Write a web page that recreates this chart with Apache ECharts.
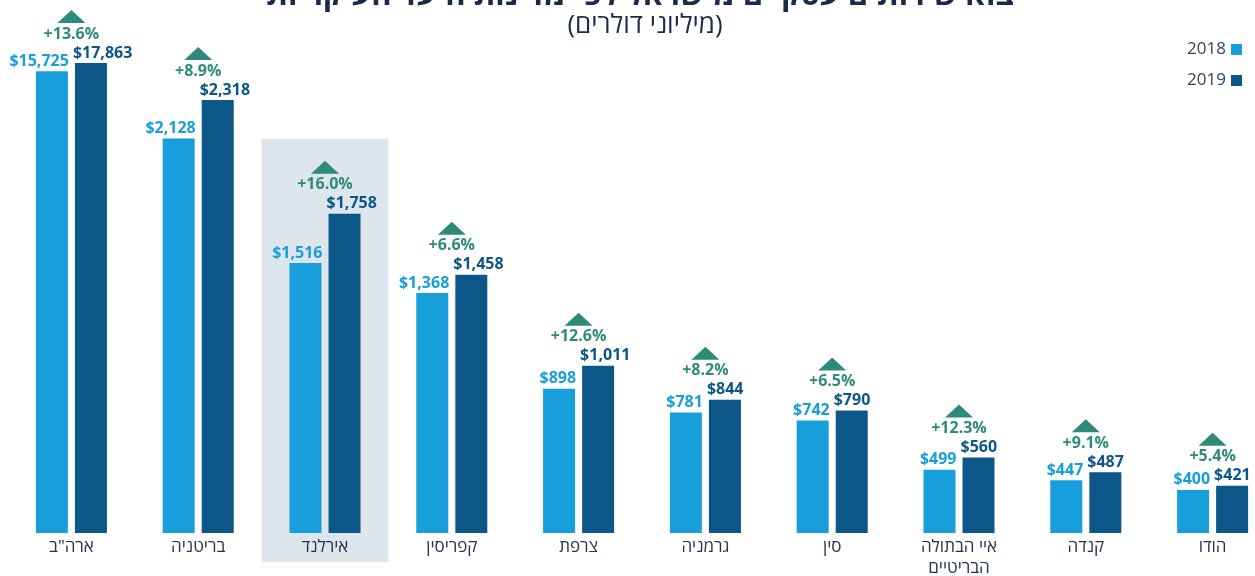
<!DOCTYPE html>
<html>
<head>
<meta charset="utf-8">
<style>
  html, body { margin: 0; padding: 0; background: #ffffff; }
  #chart { width: 1255px; height: 576px; }
</style>
<script src="https://cdn.jsdelivr.net/npm/echarts@6/dist/echarts.min.js"></script>
</head>
<body>
<div id="chart"></div>
<script>
// Destination countries and yearly values (USD millions)
const categories = ['ארה"ב', 'בריטניה', 'אירלנד', 'קפריסין', 'צרפת', 'גרמניה', 'סין', 'איי הבתולה\nהבריטיים', 'קנדה', 'הודו'];
const values2018 = [15725, 2128, 1516, 1368, 898, 781, 742, 499, 447, 400];
const values2019 = [17863, 2318, 1758, 1458, 1011, 844, 790, 560, 487, 421];
const changeLabels = ['+13.6%', '+8.9%', '+16.0%', '+6.6%', '+12.6%', '+8.2%', '+6.5%', '+12.3%', '+9.1%', '+5.4%'];
const seriesNames = ['2018', '2019'];
const highlighted = 'אירלנד';

const FONT = '"Open Sans", "DejaVu Sans", sans-serif';
const C2018 = '#189fdb';
const C2019 = '#0c5788';
const CHANGE = '#2f8b79';
const TEXT = '#27344f';

const money = v => '$' + v.toLocaleString('en-US');

const chart = echarts.init(document.getElementById('chart'), null, { renderer: 'canvas' });

const option = {
  animation: false,
  backgroundColor: '#ffffff',
  title: [
    {
      text: 'יצוא שירותים עסקיים מישראל לפי מדינות היעד העיקריות',
      left: 640,
      textAlign: 'center',
      top: -24,
      textStyle: { fontFamily: FONT, fontSize: 31, fontWeight: 'bold', color: '#1b2a4a' }
    },
    {
      text: '(מיליוני דולרים)',
      left: 640,
      textAlign: 'center',
      top: 8,
      textStyle: { fontFamily: FONT, fontSize: 26, fontWeight: 'normal', color: '#1d2a48' }
    }
  ],
  legend: {
    data: seriesNames,
    orient: 'vertical',
    right: 8,
    top: 36,
    align: 'right',
    itemWidth: 11,
    itemHeight: 11,
    itemGap: 14,
    icon: 'rect',
    textStyle: { fontFamily: FONT, fontSize: 17, color: '#36425c' }
  },
  grid: { left: 8, top: 63, width: 1268, bottom: 43, containLabel: false, outerBoundsMode: 'none' },
  xAxis: {
    type: 'category',
    data: categories,
    axisLine: { show: false },
    axisTick: { show: false },
    axisLabel: {
      margin: 4,
      interval: 0,
      fontFamily: FONT,
      fontSize: 17,
      lineHeight: 21,
      color: TEXT
    }
  },
  yAxis: {
    type: 'value',
    show: false,
    min: 188,
    max: 17863,
    // the large US values sit on compressed stretches of the axis
    breaks: [
      { start: 2460, end: 15725, gap: 0 },
      { start: 15745, end: 17843, gap: 0 }
    ],
    breakArea: { show: false }
  },
  series: [
    {
      // shaded band behind the highlighted country
      type: 'custom',
      name: 'highlight',
      z: 0,
      silent: true,
      clip: false,
      data: [[categories.indexOf(highlighted), values2019[categories.indexOf(highlighted)]]],
      encode: { x: 0, y: 1 },
      renderItem: function (params, api) {
        const p = api.coord([api.value(0), api.value(1)]);
        const bandW = api.size([1, 0])[0];
        const top = p[1] - 75;
        const bottom = params.coordSys.y + params.coordSys.height + 29;
        return {
          type: 'rect',
          shape: { x: p[0] - bandW / 2, y: top, width: bandW, height: bottom - top },
          style: { fill: '#dde6ed' }
        };
      }
    },
    {
      type: 'bar',
      name: seriesNames[0],
      data: values2018,
      barWidth: 32,
      barGap: '22%',
      z: 2,
      itemStyle: { color: C2018 },
      label: {
        show: true,
        position: ['100%', 0],
        align: 'right',
        verticalAlign: 'bottom',
        offset: [1, -2],
        formatter: p => money(p.value),
        fontFamily: FONT,
        fontSize: 16,
        fontWeight: 'bold',
        color: C2018
      }
    },
    {
      type: 'bar',
      name: seriesNames[1],
      data: values2019,
      barWidth: 32,
      z: 2,
      itemStyle: { color: C2019 },
      label: {
        show: true,
        position: [0, 0],
        align: 'left',
        verticalAlign: 'bottom',
        offset: [-2, -2],
        formatter: p => money(p.value),
        fontFamily: FONT,
        fontSize: 16,
        fontWeight: 'bold',
        color: C2019
      }
    },
    {
      // growth markers: triangle and percentage above each pair
      type: 'custom',
      name: 'change',
      z: 3,
      silent: true,
      clip: false,
      data: categories.map((c, i) => [i, Math.max(values2018[i], values2019[i])]),
      encode: { x: 0, y: 1 },
      renderItem: function (params, api) {
        const p = api.coord([api.value(0), api.value(1)]);
        const x = p[0], y = p[1];
        return {
          type: 'group',
          children: [
            {
              type: 'polygon',
              shape: { points: [[x - 14, y - 40], [x + 14, y - 40], [x, y - 53]] },
              style: { fill: CHANGE }
            },
            {
              type: 'text',
              x: x,
              y: y - 29,
              style: {
                text: changeLabels[params.dataIndex],
                align: 'center',
                verticalAlign: 'middle',
                fill: CHANGE,
                font: 'bold 16px ' + FONT
              }
            }
          ]
        };
      }
    }
  ]
};

chart.setOption(option);
</script>
</body>
</html>
